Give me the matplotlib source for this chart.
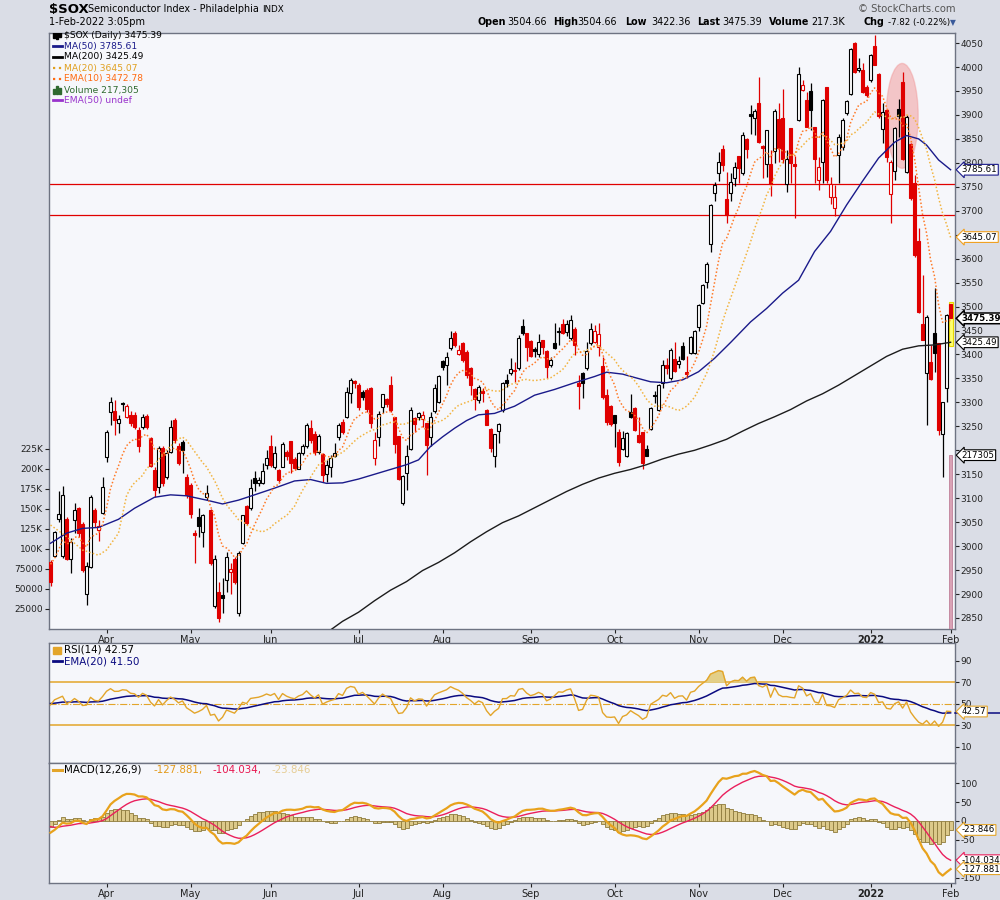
import numpy as np
import pandas as pd
import matplotlib
matplotlib.use('Agg')
import matplotlib.pyplot as plt
from matplotlib.patches import Rectangle, Ellipse
import matplotlib.transforms as mtransforms

# ---------------- DATA ----------------
open_ = [2967, 2980, 3056, 2980, 3056, 2974, 3055, 3079, 3047, 2901,
         2957, 3075, 3033, 3070, 3187, 3279, 3282, 3256, 3298, 3270,
         3274, 3274, 3242, 3248, 3272, 3225, 3158, 3124, 3204, 3144,
         3197, 3263, 3208, 3218, 3145, 3128, 3027, 3060, 3030, 3103,
         3075, 2874, 2905, 2898, 2929, 2947, 2974, 2860, 3007, 3084,
         3079, 3143, 3132, 3131, 3169, 3210, 3166, 3159, 3166, 3196,
         3219, 3182, 3162, 3194, 3210, 3246, 3235, 3196, 3192, 3150,
         3166, 3189, 3227, 3260, 3270, 3319, 3345, 3336, 3321, 3326,
         3329, 3183, 3227, 3290, 3307, 3336, 3270, 3230, 3091, 3153,
         3203, 3268, 3270, 3266, 3258, 3227, 3283, 3301, 3386, 3379,
         3413, 3444, 3402, 3423, 3406, 3371, 3327, 3306, 3324, 3285,
         3244, 3189, 3241, 3285, 3346, 3362, 3368, 3371, 3459, 3444,
         3428, 3411, 3402, 3430, 3407, 3378, 3423, 3449, 3463, 3447,
         3434, 3454, 3340, 3361, 3371, 3423, 3427, 3416, 3376, 3315,
         3292, 3274, 3239, 3202, 3188, 3279, 3288, 3232, 3239, 3203,
         3244, 3314, 3285, 3340, 3378, 3350, 3390, 3380, 3418, 3364,
         3404, 3404, 3457, 3507, 3551, 3630, 3736, 3778, 3829, 3724,
         3738, 3768, 3814, 3778, 3850, 3901, 3893, 3924, 3835, 3797,
         3797, 3825, 3891, 3893, 3756, 3872, 3797, 3889, 3952, 3932,
         3950, 3875, 3764, 3802, 3959, 3729, 3705, 3816, 3834, 3903,
         3944, 4051, 3994, 3994, 3959, 3973, 4044, 3985, 3870, 3910,
         3735, 3783, 3912, 3969, 3781, 3839, 3758, 3637, 3464, 3361,
         3385, 3444, 3423, 3235, 3329, 3504.66]
high_ = [2970, 3031, 3115, 3125, 3060, 3016, 3089, 3082, 3050, 2967,
         3107, 3080, 3055, 3145, 3242, 3312, 3304, 3274, 3301, 3296,
         3282, 3280, 3249, 3275, 3275, 3228, 3166, 3208, 3208, 3200,
         3263, 3267, 3215, 3222, 3150, 3131, 3034, 3079, 3068, 3128,
         3078, 2981, 2926, 2933, 2988, 2964, 2978, 2989, 3065, 3086,
         3141, 3157, 3145, 3174, 3200, 3232, 3208, 3162, 3218, 3200,
         3219, 3186, 3197, 3214, 3257, 3263, 3240, 3233, 3194, 3180,
         3190, 3215, 3258, 3265, 3333, 3350, 3347, 3340, 3325, 3330,
         3333, 3239, 3282, 3317, 3310, 3355, 3270, 3230, 3148, 3211,
         3290, 3270, 3280, 3282, 3258, 3280, 3338, 3357, 3388, 3406,
         3448, 3449, 3420, 3427, 3409, 3374, 3329, 3336, 3329, 3287,
         3246, 3235, 3256, 3343, 3360, 3392, 3385, 3441, 3475, 3444,
         3430, 3416, 3443, 3430, 3409, 3395, 3466, 3458, 3474, 3472,
         3482, 3458, 3357, 3364, 3427, 3465, 3461, 3465, 3395, 3327,
         3295, 3274, 3244, 3241, 3239, 3317, 3290, 3270, 3239, 3211,
         3291, 3324, 3339, 3388, 3392, 3413, 3425, 3397, 3427, 3397,
         3439, 3452, 3505, 3548, 3592, 3715, 3761, 3823, 3837, 3781,
         3779, 3802, 3814, 3865, 3851, 3921, 3912, 3980, 3838, 3868,
         3827, 3912, 3924, 3955, 3827, 3872, 3814, 4001, 3973, 3948,
         3967, 3875, 3813, 3934, 3959, 3771, 3754, 3861, 3893, 3931,
         4039, 4053, 4018, 4009, 3962, 4027, 4067, 3987, 3924, 3910,
         3806, 3875, 3934, 3990, 3900, 3841, 3774, 3663, 3566, 3482,
         3420, 3538, 3423, 3301, 3484, 3504.66]
low_ = [2917, 2978, 3050, 2975, 2970, 2943, 3027, 3020, 2945, 2877,
        2954, 3040, 3010, 3068, 3176, 3253, 3232, 3237, 3281, 3268,
        3250, 3245, 3197, 3245, 3245, 3166, 3103, 3110, 3125, 3140,
        3194, 3215, 3170, 3152, 3100, 3058, 2964, 3020, 2999, 3096,
        2960, 2870, 2842, 2860, 2905, 2901, 2920, 2855, 3005, 3044,
        3075, 3114, 3125, 3130, 3162, 3166, 3162, 3131, 3165, 3180,
        3152, 3158, 3160, 3190, 3205, 3215, 3190, 3192, 3134, 3134,
        3145, 3187, 3222, 3235, 3268, 3298, 3330, 3284, 3305, 3280,
        3246, 3169, 3210, 3277, 3290, 3280, 3194, 3138, 3086, 3117,
        3200, 3239, 3263, 3249, 3148, 3208, 3277, 3298, 3367, 3336,
        3410, 3416, 3398, 3385, 3350, 3315, 3284, 3298, 3301, 3253,
        3197, 3166, 3216, 3280, 3333, 3357, 3343, 3368, 3441, 3387,
        3395, 3394, 3394, 3402, 3350, 3374, 3411, 3420, 3442, 3439,
        3430, 3399, 3287, 3310, 3368, 3420, 3423, 3397, 3308, 3253,
        3250, 3206, 3168, 3200, 3187, 3267, 3240, 3215, 3162, 3188,
        3242, 3298, 3283, 3329, 3360, 3347, 3364, 3371, 3388, 3350,
        3401, 3400, 3448, 3505, 3538, 3614, 3721, 3763, 3784, 3674,
        3720, 3752, 3758, 3774, 3811, 3860, 3858, 3841, 3769, 3771,
        3731, 3799, 3802, 3800, 3740, 3757, 3684, 3888, 3949, 3874,
        3868, 3757, 3743, 3757, 3757, 3715, 3688, 3757, 3827, 3900,
        3941, 3987, 3990, 3945, 3938, 3969, 4004, 3893, 3841, 3802,
        3674, 3764, 3854, 3806, 3778, 3722, 3604, 3487, 3430, 3253,
        3347, 3364, 3232, 3145, 3301, 3422.36]
close_ = [2926, 3029, 3068, 3107, 2974, 3008, 3075, 3027, 2950, 2958,
          3103, 3051, 3041, 3123, 3239, 3301, 3263, 3265, 3297, 3292,
          3256, 3249, 3210, 3270, 3249, 3168, 3117, 3204, 3131, 3194,
          3249, 3221, 3174, 3201, 3107, 3068, 3023, 3041, 3065, 3110,
          2964, 2974, 2849, 2891, 2978, 2952, 2926, 2985, 3065, 3048,
          3121, 3131, 3139, 3157, 3183, 3169, 3194, 3138, 3213, 3188,
          3173, 3164, 3194, 3210, 3253, 3222, 3197, 3230, 3148, 3169,
          3183, 3194, 3253, 3239, 3321, 3347, 3341, 3291, 3312, 3287,
          3256, 3221, 3275, 3317, 3296, 3284, 3214, 3141, 3146, 3188,
          3285, 3255, 3277, 3274, 3211, 3269, 3331, 3355, 3374, 3394,
          3434, 3420, 3409, 3388, 3357, 3336, 3308, 3333, 3320, 3253,
          3204, 3234, 3255, 3340, 3341, 3369, 3366, 3434, 3444, 3415,
          3397, 3408, 3427, 3416, 3374, 3388, 3414, 3446, 3444, 3463,
          3472, 3420, 3334, 3341, 3408, 3454, 3450, 3442, 3312, 3260,
          3255, 3258, 3176, 3225, 3237, 3269, 3242, 3217, 3173, 3189,
          3289, 3313, 3336, 3379, 3371, 3409, 3366, 3387, 3390, 3359,
          3436, 3449, 3503, 3546, 3589, 3713, 3754, 3801, 3795, 3691,
          3761, 3791, 3789, 3858, 3828, 3898, 3909, 3844, 3832, 3868,
          3756, 3909, 3830, 3807, 3808, 3799, 3794, 3985, 3962, 3875,
          3911, 3809, 3792, 3931, 3764, 3756, 3729, 3854, 3889, 3929,
          4037, 3989, 3997, 3948, 3941, 4025, 4005, 3898, 3907, 3813,
          3802, 3872, 3898, 3809, 3896, 3726, 3607, 3489, 3430, 3479,
          3348, 3404, 3242, 3301, 3483.21, 3475.39]

# Moving averages (bar index, value)
ma50_idx = [0, 4, 8, 12, 17, 21, 26, 30, 34, 39, 43, 47, 51, 56, 61, 65, 69, 73, 77, 81,
            85, 89, 92, 95, 98, 101, 104, 107, 111, 116, 121, 126, 131, 136, 139, 143, 146,
            150, 154, 158, 162, 166, 170, 175, 179, 183, 187, 191, 195, 199, 203, 207, 211,
            214, 217, 219, 222, 225]
ma50_val = [3006, 3027, 3037, 3039, 3056, 3079, 3102, 3107, 3105, 3096, 3088, 3096, 3107,
            3121, 3136, 3139, 3131, 3132, 3140, 3150, 3160, 3170, 3180, 3208, 3228, 3246,
            3262, 3274, 3277, 3292, 3315, 3327, 3341, 3354, 3363, 3359, 3352, 3343, 3341,
            3347, 3364, 3392, 3425, 3468, 3496, 3528, 3555, 3615, 3657, 3712, 3762, 3810,
            3843, 3857, 3850, 3837, 3806, 3785.61]
ma200_idx = [66, 70, 73, 77, 81, 85, 89, 93, 97, 101, 105, 109, 113, 117, 121, 125, 129,
             133, 137, 141, 145, 149, 153, 157, 161, 165, 169, 173, 177, 181, 185, 189, 193,
             197, 201, 205, 209, 213, 217, 221, 225]
ma200_val = [2800, 2825, 2843, 2862, 2886, 2908, 2926, 2949, 2966, 2986, 3009, 3030, 3049,
             3063, 3080, 3097, 3114, 3129, 3142, 3152, 3160, 3170, 3182, 3192, 3200, 3211,
             3223, 3240, 3256, 3270, 3285, 3303, 3318, 3336, 3356, 3376, 3396, 3411, 3418,
             3420, 3425.49]
ma20_early_idx = [0, 4, 8, 12, 14, 17]
ma20_early_val = [3044, 3020, 2992, 2981, 2992, 3027]
ema10_start = 2962
ema12_start, ema26_start, signal_start = 2968, 2999, -15
rsi_gain_start, rsi_loss_start, rsi_ema_start = 38, 40, 50

volume_last = 217305
levels = [3756, 3691]
month_idx = [14, 35, 55, 77, 98, 120, 141, 162, 183, 205, 225]
month_lbl = ['Apr', 'May', 'Jun', 'Jul', 'Aug', 'Sep', 'Oct', 'Nov', 'Dec', '2022', 'Feb']
price_ticks = list(range(2850, 4051, 50))
hidden_price_ticks = [3650, 3200]          # covered by value tags in the reference
vol_ticks = [25000, 50000, 75000, 100000, 125000, 150000, 175000, 200000, 225000]
vol_labels = ['25000', '50000', '75000', '100K', '125K', '150K', '175K', '200K', '225K']
rsi_ticks = [10, 30, 50, 70, 90]
macd_ticks = [-150, -100, -50, 0, 50, 100]
hidden_macd_ticks = [-100]

# ---------------- derived ----------------
o = np.array(open_, float); h = np.array(high_, float)
l = np.array(low_, float); c = np.array(close_, float)
h = np.maximum(h, np.maximum(o, c)); l = np.minimum(l, np.minimum(o, c))
n = len(c); idx = np.arange(n)


def ema_seeded(vals, span, seed):
    a = 2.0 / (span + 1)
    out = np.empty(len(vals)); out[0] = seed
    for k in range(1, len(vals)):
        out[k] = out[k - 1] + a * (vals[k] - out[k - 1])
    return out


ema10 = ema_seeded(c, 10, ema10_start)
ma20c = pd.Series(c).rolling(20).mean().values
ma20_x = list(ma20_early_idx) + list(range(19, n))
ma20_y = list(ma20_early_val) + list(ma20c[19:])

g, lo = rsi_gain_start, rsi_loss_start
rsi = np.empty(n); rsi[0] = 100 - 100 / (1 + g / lo)
for k in range(1, n):
    d = c[k] - c[k - 1]
    g = (g * 13 + max(d, 0)) / 14
    lo = (lo * 13 + max(-d, 0)) / 14
    rsi[k] = 100 - 100 / (1 + g / lo)
rsi_ema = ema_seeded(rsi, 20, rsi_ema_start)

e12 = ema_seeded(c, 12, ema12_start); e26 = ema_seeded(c, 26, ema26_start)
macd = e12 - e26
sig = ema_seeded(macd, 9, signal_start)
hist = macd - sig

# ---------------- figure ----------------
BG = '#f6f7fb'
SP = '#6e7382'
fig = plt.figure(figsize=(10, 9), dpi=100)
fig.patch.set_facecolor('#dadde6')
L, W = 49 / 1000, 906 / 1000
ax = fig.add_axes([L, 1 - 629 / 900, W, 596 / 900])
axr = fig.add_axes([L, 1 - 763 / 900, W, 120 / 900])
axm = fig.add_axes([L, 1 - 883 / 900, W, 120 / 900])
xlim = (-0.375, 226.1)
for a in (ax, axr, axm):
    a.set_facecolor(BG)
    a.set_xlim(*xlim)
    for s in a.spines.values():
        s.set_color(SP); s.set_linewidth(1.0)
    a.set_xticks(month_idx)
    a.tick_params(axis='x', length=3, pad=1, labelsize=7, colors='#222', direction='out')

# ---- price panel ----
ax.set_ylim(2827, 4071)
ax.set_xticklabels(month_lbl)
prev = np.r_[o[0], c[:-1]]
down = c < prev
filled = c < o
RED = '#e00000'
edge = np.where(down, RED, 'black')
face = np.where(filled, edge, 'white')
ax.vlines(idx, l, h, colors=edge, lw=0.9, zorder=3)
bh = np.maximum(np.abs(c - o), 1.6)
ax.bar(idx, bh, bottom=np.minimum(o, c), width=0.72, color=face, edgecolor=edge,
       linewidth=0.8, zorder=3.5)
for lv in levels:
    ax.axhline(lv, color=RED, lw=0.9, zorder=2)
ax.add_patch(Ellipse((212.9, 3898), 8.0, 219, facecolor='#f07a7a', alpha=0.40,
                     edgecolor='#f09090', lw=1.0, zorder=2.5))
ax.add_patch(Rectangle((n - 1 - 0.5, l[-1] - 4), 1.0, h[-1] - l[-1] + 9,
                       facecolor='#ffff70', edgecolor='#e8d800', lw=0.8, zorder=3.2))
ax.plot(ma200_idx, ma200_val, color='#1c1c1c', lw=1.0, zorder=4)
ax.plot(ma50_idx, ma50_val, color='#1a1a8a', lw=1.0, zorder=4)
ax.plot(ma20_x, ma20_y, color='#f2b440', lw=1.1, ls=(0, (1, 1.4)), zorder=4)
ax.plot(idx, ema10, color='#ff7a28', lw=1.1, ls=(0, (1, 1.4)), zorder=4)

axv = ax.twinx()
axv.set_ylim(0, 745000)
axv.set_xlim(*xlim)
axv.yaxis.tick_left()
axv.set_yticks(vol_ticks)
axv.set_yticklabels(vol_labels)
axv.tick_params(axis='y', labelsize=6.5, length=3, pad=1, colors='#222')
for s in axv.spines.values():
    s.set_visible(False)
axv.bar([n - 1], [volume_last], width=0.8, color='#d9a3b6', edgecolor='#c08099', lw=0.6, zorder=2)

# value ticks on the right (after twinx)
ax.set_yticks(price_ticks)
ax.set_yticklabels(['' if v in hidden_price_ticks else str(v) for v in price_ticks])
axr.set_ylim(-5.3, 106.3)
axr.set_yticks(rsi_ticks)
axm.set_ylim(-164.5, 153.8)
axm.set_yticks(macd_ticks)
axm.set_yticklabels(['' if v in hidden_macd_ticks else str(v) for v in macd_ticks])
for a in (ax, axr, axm):
    a.yaxis.tick_right()
    a.tick_params(axis='y', labelsize=6.5, length=3, pad=1, colors='#222', direction='out',
                  left=False, labelleft=False, right=True, labelright=True)


def tag(a, y, s, ec, bold=False, lw=0.8, size=6.2):
    tr = mtransforms.blended_transform_factory(a.transAxes, a.transData)
    a.text(1.0075, y, s, transform=tr, ha='left', va='center', fontsize=size,
           fontweight='bold' if bold else 'normal', color='black',
           bbox=dict(boxstyle='larrow,pad=0.1', fc='white', ec=ec, lw=lw),
           clip_on=False, zorder=20)


tag(ax, 3785.61, '3785.61', '#1a1a8a')
tag(ax, 3645.07, '3645.07', '#f0a020')
tag(ax, 3425.49, '3425.49', 'black')
tag(ax, 3475.39, '3475.39', 'black', bold=True, lw=1.1)
tag(axv, volume_last, '217305', 'black')


def yfrac(py, top, bottom):
    return (bottom - py) / (bottom - top)


leg = [("$SOX (Daily) 3475.39", 'black', 'candle', None),
       ("MA(50) 3785.61", '#1a1a8a', 'line', '-'),
       ("MA(200) 3425.49", 'black', 'line', '-'),
       ("MA(20) 3645.07", '#e0a020', 'line', ':'),
       ("EMA(10) 3472.78", '#ff6a10', 'line', ':'),
       ("Volume 217,305", '#2f6a2f', 'bars', None),
       ("EMA(50) undef", '#9933cc', 'line', '-')]
ys = [35, 46, 57, 68, 79, 90, 100]
for (txt, col, kind, ls), py in zip(leg, ys):
    yf = yfrac(py, 33, 629)
    x0, x1 = 4 / 906, 13 / 906
    if kind == 'line':
        ax.plot([x0, x1], [yf, yf], transform=ax.transAxes, color=col, lw=2 if ls == '-' else 1.6,
                ls=ls, clip_on=False, zorder=10)
    elif kind == 'bars':
        for j, hh in enumerate([5, 8, 6]):
            ax.add_patch(Rectangle((x0 + j * 3 / 906, yf - 4 / 596), 2 / 906, hh / 596,
                                   transform=ax.transAxes, color=col, zorder=10))
    else:
        for j, (b0, hh) in enumerate([(-3, 7), (-4, 8), (-2, 6)]):
            ax.add_patch(Rectangle((x0 + j * 3 / 906, yf + b0 / 596), 2 / 906, hh / 596,
                                   transform=ax.transAxes, color='black', zorder=10))
    ax.text(15 / 906, yf, txt, transform=ax.transAxes, color=col, fontsize=6.6,
            va='center', ha='left', zorder=10)

# ---- RSI panel ----
axr.tick_params(axis='x', labelbottom=False)
GOLD = '#e3a52a'
axr.axhline(70, color=GOLD, lw=1.1)
axr.axhline(30, color=GOLD, lw=1.1)
axr.axhline(50, color=GOLD, lw=0.8, ls='-.')
axr.fill_between(idx, rsi, 70, where=rsi > 70, interpolate=True, color='#e3cf88', zorder=2)
axr.fill_between(idx, rsi, 30, where=rsi < 30, interpolate=True, color='#e3cf88', zorder=2)
axr.plot(idx, rsi_ema, color='#0a0a80', lw=1.1, zorder=3)
axr.plot(idx, rsi, color=GOLD, lw=1.0, zorder=4)
trr = mtransforms.blended_transform_factory(axr.transAxes, axr.transData)
axr.plot([1.0, 1.056], [41.5, 41.5], transform=trr, color='#0a0a80', lw=1.1, clip_on=False, zorder=9)
tag(axr, 42.57, '42.57', GOLD)
axr.text(15 / 906, yfrac(650, 643, 763), 'RSI(14) 42.57', transform=axr.transAxes,
         fontsize=7.4, va='center', color='black')
axr.add_patch(Rectangle((4 / 906, yfrac(654, 643, 763)), 8 / 906, 7 / 120, transform=axr.transAxes,
                        color=GOLD, zorder=10))
axr.plot([4 / 906, 13 / 906], [yfrac(661, 643, 763)] * 2, transform=axr.transAxes, color='#0a0a80',
         lw=2, clip_on=False)
axr.text(15 / 906, yfrac(661, 643, 763), 'EMA(20) 41.50', transform=axr.transAxes,
         fontsize=7.4, va='center', color='#0a0a80')

# ---- MACD panel ----
axm.set_xticklabels(month_lbl)
axm.bar(idx, hist, width=1.0, color='#dcc98a', edgecolor='#8e7b3c', lw=0.6, zorder=2)
axm.plot(idx, sig, color='#ea1f5c', lw=1.0, zorder=3)
axm.plot(idx, macd, color='#e8a21c', lw=1.6, zorder=4)
tag(axm, -23.846, '-23.846', GOLD)
tag(axm, -104.034, '-104.034', '#ea1f5c')
tag(axm, -127.881, '-127.881', GOLD)
ym = yfrac(770, 763, 883)
axm.plot([4 / 906, 13 / 906], [ym, ym], transform=axm.transAxes, color=GOLD, lw=2.2, clip_on=False)
for px, txt, col in [(64, 'MACD(12,26,9)', 'black'), (153, '-127.881,', '#e39a1a'),
                     (212, '-104.034,', '#e8164f'), (272, '-23.846', '#e6cd94')]:
    axm.text((px - 49) / 906, ym, txt, transform=axm.transAxes, fontsize=7.4, va='center',
             ha='left', color=col)

for a in (ax, axm):
    for t in a.get_xticklabels():
        if t.get_text() == '2022':
            t.set_fontweight('bold')


# ---- header ----
def fy(py):
    return 1 - py / 900


fig.text(49 / 1000, fy(9.5), '$SOX', fontsize=9.5, fontweight='bold', va='center', ha='left')
fig.text(88 / 1000, fy(9.5), 'Semiconductor Index - Philadelphia', fontsize=6.9, va='center', ha='left')
fig.text(262 / 1000, fy(9.5), 'INDX', fontsize=6.3, va='center', ha='left')
fig.text(49 / 1000, fy(22), '1-Feb-2022 3:05pm', fontsize=7, va='center', ha='left')
fig.text(956 / 1000, fy(9), '\u00a9 StockCharts.com', fontsize=7.2, va='center', ha='right', color='#555555')
pieces = [(477, 'Open', True), (507, '3504.66', False), (553, 'High', True), (577, '3504.66', False),
          (625, 'Low', True), (651, '3422.36', False), (697, 'Last', True), (722, '3475.39', False),
          (769, 'Volume', True), (811, '217.3K', False), (864, 'Chg', True), (888, '-7.82 (-0.22%)', False)]
for px, txt, b in pieces:
    fs = 6.2 if txt.startswith('-7') else 6.9
    fig.text(px / 1000, fy(22), txt, fontsize=fs, fontweight='bold' if b else 'normal',
             va='center', ha='left')
fig.text(950 / 1000, fy(22.5), '\u25bc', fontsize=5.5, color='#3a5a9a', va='center', ha='left')

fig.savefig('out.png', dpi=100, facecolor=fig.get_facecolor())
